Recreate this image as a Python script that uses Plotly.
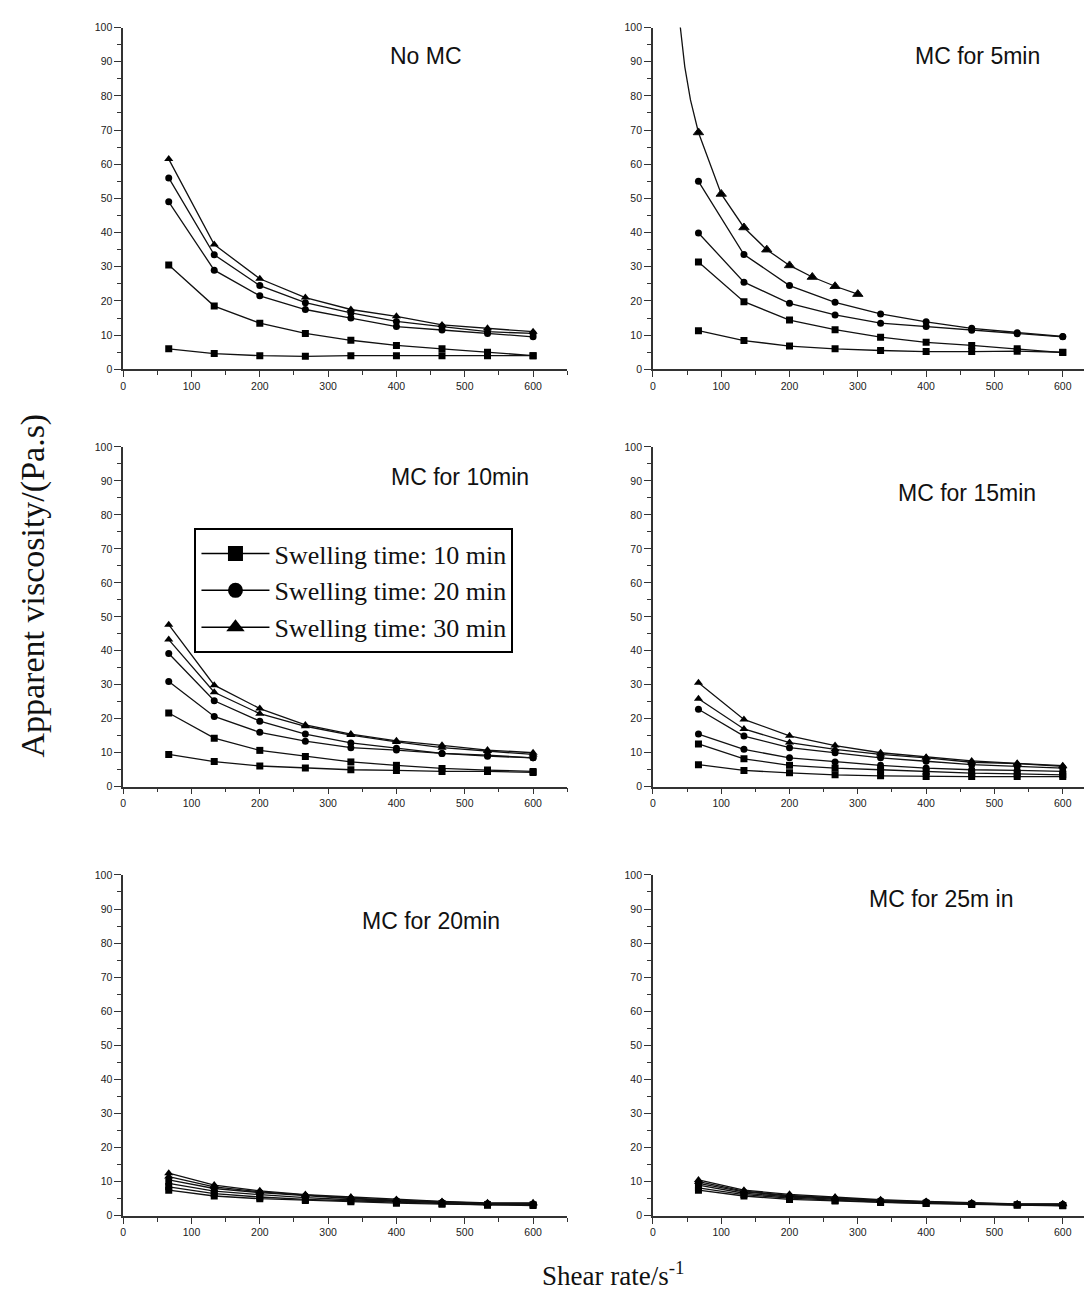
import plotly.graph_objects as go

# ---------------- data ----------------
shear_rate = [66.7, 133.3, 200, 266.7, 333.3, 400, 466.7, 533.3, 600]

# No MC
nomc_sq_a = [30.5, 18.5, 13.5, 10.5, 8.5, 7.0, 6.0, 5.0, 4.0]
nomc_sq_b = [6.0, 4.6, 4.0, 3.8, 4.0, 4.0, 4.0, 4.0, 4.0]
nomc_ci_a = [56.0, 33.5, 24.5, 19.5, 16.5, 14.0, 12.5, 11.0, 10.5]
nomc_ci_b = [49.0, 29.0, 21.5, 17.5, 15.0, 12.5, 11.5, 10.5, 9.5]
nomc_tr_a = [61.5, 36.5, 26.5, 21.0, 17.5, 15.5, 13.0, 12.0, 11.0]

# MC for 5 min
mc5_sq_a = [31.4, 19.8, 14.4, 11.6, 9.4, 7.9, 7.0, 6.0, 4.9]
mc5_sq_b = [11.3, 8.4, 6.8, 6.0, 5.5, 5.2, 5.2, 5.3, 5.0]
mc5_ci_a = [55.0, 33.6, 24.5, 19.6, 16.2, 13.9, 12.0, 10.7, 9.6]
mc5_ci_b = [39.9, 25.5, 19.3, 15.9, 13.5, 12.5, 11.4, 10.4, 9.5]
mc5_tr_x = [38.5, 46.7, 55.0, 66.7, 100.0, 133.3, 166.7, 200.0, 233.3, 266.7, 300.0]
mc5_tr_y = [103.0, 88.5, 78.8, 69.3, 51.3, 41.5, 35.0, 30.4, 27.0, 24.3, 22.0]

# MC for 10 min
mc10_sq_a = [21.7, 14.3, 10.7, 8.9, 7.3, 6.3, 5.4, 4.9, 4.5]
mc10_sq_b = [9.5, 7.4, 6.1, 5.5, 5.0, 4.8, 4.5, 4.5, 4.2]
mc10_ci_a = [39.2, 25.3, 19.3, 15.5, 12.9, 11.3, 9.8, 9.3, 8.5]
mc10_ci_b = [31.0, 20.7, 16.0, 13.4, 11.5, 10.8, 9.8, 9.0, 8.5]
mc10_tr_a = [47.7, 29.9, 23.0, 18.2, 15.5, 13.5, 12.2, 10.8, 10.0]
mc10_tr_b = [43.3, 27.8, 21.5, 17.8, 15.2, 13.2, 11.5, 10.5, 9.5]

# MC for 15 min
mc15_sq_a = [12.6, 8.2, 6.3, 5.5, 5.0, 4.5, 4.0, 3.8, 3.5]
mc15_sq_b = [6.5, 4.8, 4.1, 3.5, 3.2, 3.0, 3.0, 3.0, 3.0]
mc15_ci_a = [22.8, 14.9, 11.5, 10.0, 8.5, 7.5, 6.5, 6.0, 5.5]
mc15_ci_b = [15.5, 11.0, 8.5, 7.3, 6.3, 5.5, 5.0, 4.8, 4.5]
mc15_tr_a = [30.6, 19.8, 15.0, 12.1, 10.0, 8.7, 7.6, 6.9, 6.2]
mc15_tr_b = [25.9, 17.0, 13.0, 11.0, 9.5, 8.5, 7.2, 6.8, 6.0]

# MC for 20 min
mc20_sq_a = [8.5, 6.5, 5.5, 4.8, 4.4, 4.0, 3.6, 3.2, 3.2]
mc20_sq_b = [7.5, 5.8, 5.0, 4.5, 4.1, 3.7, 3.4, 3.1, 3.0]
mc20_ci_a = [10.5, 8.0, 6.8, 5.8, 5.0, 4.4, 3.9, 3.5, 3.4]
mc20_ci_b = [9.5, 7.2, 6.2, 5.3, 4.7, 4.2, 3.8, 3.4, 3.3]
mc20_tr_a = [12.5, 9.0, 7.3, 6.2, 5.5, 4.8, 4.2, 3.8, 3.8]
mc20_tr_b = [11.5, 8.5, 7.0, 6.0, 5.2, 4.6, 4.0, 3.6, 3.6]

# MC for 25 min
mc25_sq_a = [8.2, 6.2, 5.2, 4.5, 4.0, 3.7, 3.4, 3.2, 3.0]
mc25_sq_b = [7.5, 5.8, 4.8, 4.3, 3.9, 3.6, 3.3, 3.1, 2.9]
mc25_ci_a = [9.5, 7.0, 5.8, 5.0, 4.4, 4.0, 3.6, 3.3, 3.3]
mc25_ci_b = [9.0, 6.6, 5.5, 4.8, 4.2, 3.8, 3.5, 3.2, 3.2]
mc25_tr_a = [10.5, 7.5, 6.3, 5.5, 4.7, 4.2, 3.8, 3.5, 3.5]
mc25_tr_b = [10.0, 7.2, 6.0, 5.2, 4.5, 4.1, 3.7, 3.4, 3.4]

panel_titles = ["No MC", "MC for 5min", "MC for 10min", "MC for 15min",
                "MC for 20min", "MC for 25m in"]
legend_labels = ["Swelling time: 10 min", "Swelling time: 20 min", "Swelling time: 30 min"]

# ---------------- figure ----------------
W, H = 1084, 1303
fig = go.Figure()

SYM = {"sq": "square", "ci": "circle", "tr": "triangle-up"}
MSIZE = {"sq": 7, "ci": 7, "tr": 8}


def add(panel, x, y, kind, sizes=None):
    ax = "" if panel == 1 else str(panel)
    fig.add_trace(go.Scatter(
        x=x, y=y, mode="lines+markers", xaxis="x" + ax, yaxis="y" + ax,
        line=dict(color="#111111", width=1.3),
        marker=dict(symbol=SYM[kind], color="black", opacity=1,
                    size=sizes if sizes is not None else MSIZE[kind]),
        showlegend=False, hoverinfo="skip", cliponaxis=True))


panels = {
    1: [(nomc_sq_a, "sq"), (nomc_sq_b, "sq"), (nomc_ci_a, "ci"), (nomc_ci_b, "ci"), (nomc_tr_a, "tr")],
    2: [(mc5_sq_a, "sq"), (mc5_sq_b, "sq"), (mc5_ci_a, "ci"), (mc5_ci_b, "ci")],
    3: [(mc10_sq_a, "sq"), (mc10_sq_b, "sq"), (mc10_ci_a, "ci"), (mc10_ci_b, "ci"), (mc10_tr_a, "tr"), (mc10_tr_b, "tr")],
    4: [(mc15_sq_a, "sq"), (mc15_sq_b, "sq"), (mc15_ci_a, "ci"), (mc15_ci_b, "ci"), (mc15_tr_a, "tr"), (mc15_tr_b, "tr")],
    5: [(mc20_sq_a, "sq"), (mc20_sq_b, "sq"), (mc20_ci_a, "ci"), (mc20_ci_b, "ci"), (mc20_tr_a, "tr"), (mc20_tr_b, "tr")],
    6: [(mc25_sq_a, "sq"), (mc25_sq_b, "sq"), (mc25_ci_a, "ci"), (mc25_ci_b, "ci"), (mc25_tr_a, "tr"), (mc25_tr_b, "tr")],
}
for p, series in panels.items():
    for y, k in series:
        add(p, shear_rate, y, k)

# the long 30-min curve of the 5-min panel (markers only at measured points)
tri_sizes = [0 if x < 60 else 9 for x in mc5_tr_x]
add(2, mc5_tr_x, mc5_tr_y, "tr", sizes=tri_sizes)

# legend entries
for lab, k, s in zip(legend_labels, ["sq", "ci", "tr"], [15, 15, 16]):
    fig.add_trace(go.Scatter(
        x=[None], y=[None], mode="lines+markers", name=lab,
        line=dict(color="black", width=1.5),
        marker=dict(symbol=SYM[k], color="black", size=s, opacity=1),
        showlegend=True))

# ---------------- axes ----------------
def px_x(v):
    return v / W


def px_y(v):
    return 1 - v / H


col_dom = {0: [px_x(120.5), px_x(565.8)], 1: [px_x(651.7), 1.0]}
col_rng = {0: [0, 650], 1: [0, 631.1]}
row_dom = {0: [px_y(366.7), px_y(21.7)], 1: [px_y(788), px_y(445)], 2: [px_y(1221), px_y(877)]}

tickfont = dict(family="Liberation Sans, Arial", size=10.5, color="#222222")
for p in range(1, 7):
    r, c = (p - 1) // 2, (p - 1) % 2
    ax = "" if p == 1 else str(p)
    fig.layout["xaxis" + ax] = dict(
        domain=col_dom[c], range=col_rng[c], anchor="y" + ax,
        showline=True, linecolor="#333333", linewidth=1.5,
        ticks="outside", ticklen=6, tickwidth=1.3, tickcolor="#333333",
        tick0=0, dtick=100, showgrid=False, zeroline=False,
        minor=dict(ticks="outside", ticklen=4, dtick=50, tickcolor="#333333", showgrid=False),
        tickfont=tickfont, fixedrange=True)
    fig.layout["yaxis" + ax] = dict(
        domain=row_dom[r], range=[0, 100], anchor="x" + ax,
        showline=True, linecolor="#333333", linewidth=1.5,
        ticks="outside", ticklen=7, tickwidth=1.3, tickcolor="#333333",
        tick0=0, dtick=10, showgrid=False, zeroline=False,
        minor=dict(ticks="outside", ticklen=4, dtick=5, tickcolor="#333333", showgrid=False),
        tickfont=tickfont, fixedrange=True)

# ---------------- annotations ----------------
title_pos = [(424, 50), (977, 50), (458, 475), (967, 492), (429, 924), (941, 901)]
anns = []
for t, (x, y) in zip(panel_titles, title_pos):
    anns.append(dict(text=t, x=px_x(x), y=px_y(y), xref="paper", yref="paper",
                     xanchor="center", yanchor="middle", showarrow=False,
                     font=dict(family="Liberation Sans, Arial", size=23, color="#111111")))

anns.append(dict(text="Apparent viscosity/(Pa.s)", x=px_x(30), y=px_y(585),
                 xref="paper", yref="paper", xanchor="center", yanchor="middle",
                 textangle=-90, showarrow=False,
                 font=dict(family="Liberation Serif, Times New Roman", size=34, color="#111111")))
anns.append(dict(text="Shear rate/s<sup>-1</sup>", x=px_x(612), y=px_y(1280),
                 xref="paper", yref="paper", xanchor="center", yanchor="middle",
                 showarrow=False,
                 font=dict(family="Liberation Serif, Times New Roman", size=27, color="#111111")))

fig.update_layout(
    width=W, height=H, margin=dict(l=0, r=0, t=0, b=0),
    paper_bgcolor="white", plot_bgcolor="white",
    annotations=anns,
    legend=dict(x=px_x(192), y=px_y(527), xanchor="left", yanchor="top",
                bordercolor="black", borderwidth=2, bgcolor="white",
                itemwidth=68, tracegroupgap=0,
                font=dict(family="Liberation Serif, Times New Roman", size=26, color="#111111")),
)

fig.write_html("out.html", config={"displayModeBar": False},
               post_script="document.body.style.margin='0';")
